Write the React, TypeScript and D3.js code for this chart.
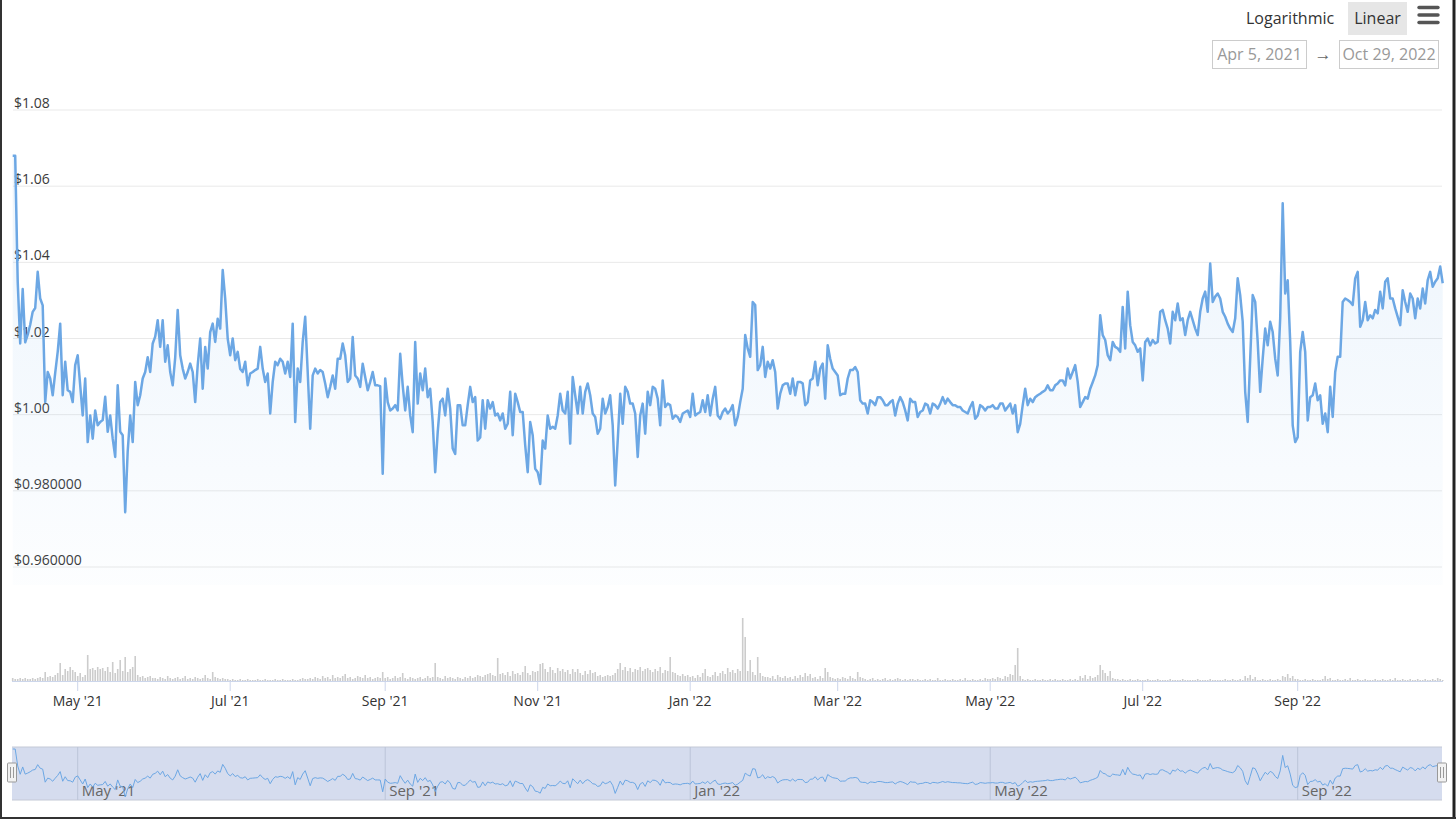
import * as d3 from "d3";

const W = 1456;
const H = 819;

const startDate = new Date(2021, 3, 5);
const endDate = new Date(2022, 9, 29);

// daily price (USD), one array per month
const apr21 = [1.068, 1.068, 1.035, 1.0187, 1.033, 1.019, 1.021, 1.0236, 1.027, 1.028, 1.0375, 1.0305, 1.0287, 1.0033, 1.0112, 1.0095, 1.0051, 1.011, 1.0165, 1.0239, 1.0051, 1.0139, 1.0064, 1.006, 1.0033, 1.013];
const may21 = [1.0156, 1.0077, 0.9998, 1.0095, 0.9928, 0.9998, 0.9937, 1.0011, 0.9972, 0.9981, 0.9986, 1.0047, 0.9955, 0.9998, 0.9937, 0.9889, 1.0077, 0.9955, 0.9946, 0.9744, 0.9904, 0.9998, 0.9928, 1.0086, 1.0025, 1.0051, 1.0095, 1.0112, 1.0151, 1.0112, 1.0187];
const jun21 = [1.0205, 1.0248, 1.0178, 1.0248, 1.0139, 1.0182, 1.0112, 1.0077, 1.015, 1.0275, 1.0156, 1.0121, 1.0095, 1.0112, 1.0134, 1.0112, 1.0033, 1.013, 1.02, 1.0068, 1.0178, 1.0121, 1.0217, 1.0239, 1.0191, 1.0252, 1.0226, 1.038, 1.0305, 1.02];
const jul21 = [1.0156, 1.02, 1.0143, 1.0165, 1.012, 1.0112, 1.0139, 1.0077, 1.0108, 1.0112, 1.0117, 1.0121, 1.0178, 1.0121, 1.0086, 1.0108, 1.0003, 1.0086, 1.0139, 1.013, 1.0147, 1.0139, 1.0108, 1.0139, 1.0099, 1.0239, 0.9981, 1.0121, 1.0086, 1.0191, 1.0257];
const aug21 = [1.0112, 0.9963, 1.0103, 1.0121, 1.0108, 1.0117, 1.0112, 1.0082, 1.0046, 1.0073, 1.0103, 1.0068, 1.0147, 1.0147, 1.0187, 1.0156, 1.0086, 1.0095, 1.0204, 1.0103, 1.0095, 1.0073, 1.0134, 1.0099, 1.0064, 1.0086, 1.0112, 1.0077, 1.0077, 1.0075, 0.9845];
const sep21 = [1.0095, 1.0033, 1.0011, 1.0016, 1.0025, 1.0011, 1.016, 1.0077, 1.0011, 1.0073, 0.9998, 0.9954, 1.0191, 1.0029, 1.0108, 1.0064, 1.0121, 1.0046, 1.0068, 0.9981, 0.9849, 0.9954, 1.0033, 1.0042, 0.9998, 1.0068, 1.0016, 0.9911, 0.9897, 1.0025];
const oct21 = [1.0025, 0.9972, 0.9972, 1.0025, 1.0073, 1.0033, 1.0046, 0.9932, 0.994, 1.0038, 0.9963, 1.0038, 1.0016, 1.0033, 0.9998, 1.0003, 0.9985, 1.0003, 0.9963, 0.9976, 1.006, 0.9946, 1.0055, 1.0033, 1.0007, 1.0007, 0.992, 0.9849, 0.9981, 0.9946, 0.9858];
const nov21 = [0.9849, 0.9818, 0.9932, 0.9911, 0.9998, 0.9963, 0.9968, 0.9963, 0.9998, 1.0055, 1.0011, 1.0003, 1.006, 0.9924, 1.0099, 1.0051, 1.0003, 1.0073, 1.0003, 1.006, 1.0082, 1.0051, 1.0003, 0.9994, 0.995, 0.9963, 1.0042, 1.0003, 1.002, 1.0051];
const dec21 = [0.9972, 0.9814, 0.9932, 1.0055, 0.9976, 1.0073, 1.006, 1.0029, 1.0029, 1.0003, 0.9889, 0.9998, 1.0029, 0.995, 1.006, 1.0025, 1.0073, 1.0068, 1.0042, 0.9972, 1.009, 1.002, 1.0029, 1.0025, 0.9989, 0.9998, 0.9994, 0.9981, 1.0003, 1.0007, 1.0011];
const jan22 = [0.9994, 1.0055, 0.9998, 1.0003, 1.0007, 1.0038, 1.0007, 1.0051, 0.9998, 1.0042, 1.0073, 0.9998, 0.9989, 1.0007, 1.0016, 1.0003, 1.0011, 1.0025, 0.9972, 0.9994, 1.0033, 1.0068, 1.0209, 1.0174, 1.0152, 1.0296, 1.0288, 1.0117, 1.013, 1.0178, 1.0099];
const feb22 = [1.0139, 1.0121, 1.0143, 1.0112, 1.0016, 1.0055, 1.0077, 1.0082, 1.0082, 1.0055, 1.0095, 1.0051, 1.0086, 1.0086, 1.0082, 1.0025, 1.0033, 1.009, 1.0095, 1.0139, 1.0077, 1.0121, 1.0134, 1.0042, 1.0182, 1.0147, 1.0121, 1.0112];
const mar22 = [1.0103, 1.0051, 1.0055, 1.0055, 1.0095, 1.0117, 1.0117, 1.0125, 1.0112, 1.0038, 1.0029, 1.0029, 1.0003, 1.0038, 1.0033, 1.0025, 1.0046, 1.0046, 1.0038, 1.0025, 1.0025, 1.0033, 1.0038, 0.9998, 1.0029, 1.0046, 1.0033, 1.0011, 0.9985, 1.0042, 1.0033];
const apr22 = [1.0033, 0.9994, 1.0007, 1.0011, 1.0029, 1.0025, 1.0003, 1.0029, 1.0025, 1.0016, 1.0029, 1.0046, 1.0029, 1.0042, 1.0033, 1.0025, 1.0025, 1.002, 1.002, 1.0011, 1.0007, 1.0003, 1.002, 1.0033, 0.9989, 0.9998, 1.0025, 1.002, 1.0011, 1.002];
const may22 = [1.002, 1.0025, 1.0016, 1.0016, 1.0029, 1.0029, 1.0011, 1.002, 1.0029, 1.0003, 1.0025, 0.9954, 0.9976, 1.0025, 1.0068, 1.0025, 1.0042, 1.0033, 1.0046, 1.0051, 1.0055, 1.006, 1.0064, 1.0077, 1.0064, 1.0064, 1.0077, 1.0082, 1.009, 1.009, 1.0077];
const jun22 = [1.0121, 1.0095, 1.0112, 1.013, 1.0086, 1.002, 1.0033, 1.0046, 1.0042, 1.0068, 1.0085, 1.0103, 1.013, 1.0261, 1.0209, 1.0196, 1.0156, 1.0143, 1.0191, 1.0178, 1.0174, 1.0165, 1.0283, 1.0174, 1.0323, 1.0235, 1.0191, 1.0182, 1.0165, 1.0174];
const jul22 = [1.009, 1.0191, 1.02, 1.0182, 1.0196, 1.0187, 1.0191, 1.027, 1.0275, 1.0248, 1.0226, 1.0187, 1.027, 1.0248, 1.0292, 1.0248, 1.0253, 1.0209, 1.0248, 1.027, 1.0248, 1.0226, 1.0209, 1.027, 1.0305, 1.0323, 1.027, 1.0397, 1.0296, 1.031, 1.0318];
const aug22 = [1.0305, 1.027, 1.0257, 1.0239, 1.0226, 1.0217, 1.0253, 1.0358, 1.0314, 1.0244, 1.006, 0.9981, 1.0147, 1.0314, 1.0296, 1.0191, 1.006, 1.0147, 1.0226, 1.0182, 1.0244, 1.0217, 1.0147, 1.0103, 1.0253, 1.0555, 1.0318, 1.0353, 1.0191, 0.9972, 0.9928];
const sep22 = [0.9941, 1.0165, 1.0217, 1.0165, 0.9985, 1.0046, 1.0051, 1.0082, 1.0038, 1.0051, 0.9976, 1.0003, 0.9954, 1.0073, 0.9994, 1.0112, 1.0152, 1.0152, 1.0296, 1.0305, 1.0301, 1.0296, 1.0288, 1.0358, 1.0375, 1.0231, 1.0248, 1.0296, 1.0248, 1.0261];
const oct22 = [1.0253, 1.0275, 1.0266, 1.0323, 1.0279, 1.0349, 1.0358, 1.0305, 1.0305, 1.0279, 1.0257, 1.0235, 1.0327, 1.0296, 1.027, 1.0318, 1.0305, 1.0253, 1.0305, 1.0279, 1.0331, 1.0292, 1.0353, 1.0375, 1.0336, 1.0349, 1.0358, 1.0389, 1.0345];

// daily volume (millions USD), one array per month
const volApr21 = [3, 2, 2, 3, 2, 3, 2, 2, 3, 2, 3, 4, 3, 9, 4, 5, 4, 6, 8, 18, 6, 12, 10, 14, 11, 9];
const volMay21 = [5, 8, 4, 6, 26, 12, 13, 11, 14, 12, 13, 10, 14, 9, 19, 8, 12, 21, 10, 24, 9, 12, 14, 25, 6, 4, 5, 3, 4, 5, 3];
const volJun21 = [3, 2, 4, 3, 2, 5, 3, 2, 3, 4, 2, 3, 5, 2, 3, 2, 4, 3, 2, 3, 6, 3, 2, 9, 4, 3, 2, 3, 2, 2];
const volJul21 = [1, 2, 1, 1, 2, 1, 1, 2, 1, 1, 1, 2, 1, 1, 2, 1, 1, 1, 2, 1, 1, 2, 1, 1, 1, 2, 1, 1, 2, 3, 2];
const volAug21 = [2, 3, 2, 4, 3, 2, 5, 3, 4, 2, 6, 3, 4, 3, 5, 7, 3, 4, 2, 3, 5, 4, 3, 6, 3, 4, 2, 3, 4, 3, 9];
const volSep21 = [3, 4, 2, 3, 5, 3, 4, 8, 3, 2, 4, 3, 2, 3, 4, 2, 3, 5, 3, 4, 18, 4, 3, 2, 5, 3, 4, 3, 2, 4];
const volOct21 = [3, 2, 4, 3, 5, 3, 4, 6, 5, 4, 6, 7, 8, 6, 5, 23, 7, 8, 6, 9, 5, 10, 7, 8, 6, 9, 15, 8, 6, 10, 9];
const volNov21 = [10, 17, 18, 12, 9, 14, 11, 8, 13, 10, 12, 9, 11, 7, 12, 9, 12, 8, 6, 10, 7, 11, 8, 9, 5, 6, 4, 5, 6, 5];
const volDec21 = [6, 8, 12, 18, 11, 14, 10, 13, 9, 12, 11, 14, 10, 12, 13, 11, 9, 12, 10, 14, 8, 11, 10, 24, 9, 8, 6, 5, 7, 5, 6];
const volJan22 = [4, 5, 3, 6, 4, 8, 12, 5, 4, 6, 9, 5, 8, 10, 7, 13, 9, 11, 8, 12, 10, 63, 44, 10, 21, 9, 6, 24, 8, 5, 4];
const volFeb22 = [4, 3, 5, 2, 6, 4, 3, 5, 3, 4, 2, 5, 3, 6, 4, 8, 5, 7, 3, 4, 2, 5, 3, 13, 9, 4, 3, 2];
const volMar22 = [3, 2, 4, 3, 2, 5, 3, 2, 9, 4, 3, 2, 1, 2, 3, 1, 2, 1, 2, 3, 1, 2, 1, 2, 3, 2, 1, 2, 1, 2, 2];
const volApr22 = [1, 2, 1, 1, 2, 1, 2, 1, 1, 3, 1, 1, 2, 1, 1, 2, 1, 1, 2, 1, 3, 1, 1, 2, 1, 1, 2, 1, 3, 2];
const volMay22 = [2, 3, 2, 4, 3, 2, 5, 4, 7, 6, 16, 33, 5, 2, 1, 2, 1, 1, 2, 1, 1, 2, 1, 1, 2, 1, 2, 1, 1, 2, 1];
const volJun22 = [1, 2, 1, 2, 1, 5, 3, 6, 2, 5, 3, 4, 6, 16, 11, 8, 5, 10, 3, 2, 2, 1, 2, 1, 1, 2, 1, 1, 2, 1];
const volJul22 = [1, 1, 2, 1, 1, 1, 2, 1, 1, 1, 1, 2, 1, 1, 1, 1, 2, 1, 1, 1, 1, 1, 2, 1, 1, 1, 1, 2, 1, 1, 1];
const volAug22 = [1, 1, 2, 1, 1, 2, 1, 1, 2, 1, 5, 3, 6, 2, 4, 1, 1, 2, 1, 1, 2, 1, 1, 2, 1, 5, 4, 7, 3, 5, 2];
const volSep22 = [2, 1, 1, 2, 1, 1, 2, 1, 1, 1, 2, 5, 2, 3, 1, 1, 2, 1, 1, 2, 1, 3, 1, 1, 2, 1, 1, 2, 1, 1];
const volOct22 = [1, 2, 1, 1, 2, 1, 1, 2, 1, 3, 1, 1, 2, 1, 1, 2, 1, 1, 2, 1, 1, 2, 1, 1, 2, 1, 3, 2, 1];

const priceMonths = [apr21, may21, jun21, jul21, aug21, sep21, oct21, nov21, dec21, jan22, feb22, mar22, apr22, may22, jun22, jul22, aug22, sep22, oct22];
const volumeMonths = [volApr21, volMay21, volJun21, volJul21, volAug21, volSep21, volOct21, volNov21, volDec21, volJan22, volFeb22, volMar22, volApr22, volMay22, volJun22, volJul22, volAug22, volSep22, volOct22];

const yTicks = [0.96, 0.98, 1.0, 1.02, 1.04, 1.06, 1.08];
const yTickLabels = ["$0.960000", "$0.980000", "$1.00", "$1.02", "$1.04", "$1.06", "$1.08"];

const FONT = "'Open Sans', 'Noto Sans', sans-serif";
const LINE_COLOR = "#6ca7e4";

export default function App() {
  const prices = priceMonths.flat();
  const volumes = volumeMonths.flat();
  const dates = prices.map((_, i) => d3.timeDay.offset(startDate, i));

  const x = d3.scaleTime().domain([startDate, endDate]).range([12.7, 1442.7]);
  const y = d3.scaleLinear().domain([0.96, 1.08]).range([567, 110]);
  const vy = d3.scaleLinear().domain([0, d3.max(volumes)!]).range([681, 618]);
  const ny = d3
    .scaleLinear()
    .domain(d3.extent(prices) as [number, number])
    .range([797, 749]);

  const linePath = d3
    .line<number>()
    .x((_, i) => x(dates[i]))
    .y((d) => y(d))(prices);
  const areaPath = d3
    .area<number>()
    .x((_, i) => x(dates[i]))
    .y0(585)
    .y1((d) => y(d))(prices);
  const navPath = d3
    .line<number>()
    .x((_, i) => x(dates[i]))
    .y((d) => ny(d))(prices);

  const monthTicks = x.ticks(d3.timeMonth.every(2)!);
  const navTicks = x.ticks(d3.timeMonth.every(4)!);
  const fmt = d3.timeFormat("%b '%y");

  return (
    <div style={{ position: "absolute", left: 0, top: 0 }}>
      <svg width={W} height={H} style={{ display: "block", fontFamily: FONT }}>
        <rect width={W} height={H} fill="#fff" />
        <defs>
          <linearGradient id="areaFill" gradientUnits="userSpaceOnUse" x1="0" y1="110" x2="0" y2="585">
            <stop offset="0" stopColor="#7cb5ec" stopOpacity={0.16} />
            <stop offset="1" stopColor="#7cb5ec" stopOpacity={0.02} />
          </linearGradient>
        </defs>

        {/* grid + y labels */}
        {yTicks.map((t, i) => (
          <g key={t}>
            <line x1={13} x2={1442} y1={y(t)} y2={y(t)} stroke="#e9e9e9" />
            <text x={14} y={y(t) - 2} fontSize={14} fill="#3a3a3a">
              {yTickLabels[i]}
            </text>
          </g>
        ))}

        <path d={areaPath!} fill="url(#areaFill)" />
        <path d={linePath!} fill="none" stroke={LINE_COLOR} strokeWidth={2.5} strokeLinejoin="round" />

        {/* volume */}
        {volumes.map((v, i) => (
          <rect
            key={i}
            x={x(dates[i]) - 0.8}
            y={vy(v)}
            width={1.6}
            height={681 - vy(v)}
            fill="#cccccc"
          />
        ))}
        <line x1={12} x2={1443} y1={681.5} y2={681.5} stroke="#ccd6eb" />
        {monthTicks.map((t) => (
          <g key={t.getTime()}>
            <line x1={x(t)} x2={x(t)} y1={681} y2={691} stroke="#ccd6eb" />
            <text x={x(t)} y={706} fontSize={14} fill="#333" textAnchor="middle">
              {fmt(t)}
            </text>
          </g>
        ))}

        {/* navigator */}
        <rect x={12} y={747} width={1430} height={53} fill="#d5dcee" />
        <line x1={12} x2={1442} y1={747} y2={747} stroke="#c4c9d6" />
        <line x1={12} x2={1442} y1={800} y2={800} stroke="#c4c9d6" />
        {navTicks.map((t) => (
          <g key={t.getTime()}>
            <line x1={x(t)} x2={x(t)} y1={747} y2={800} stroke="#bcc4d8" />
            <text x={x(t) + 4} y={796} fontSize={15} fill="#666">
              {fmt(t)}
            </text>
          </g>
        ))}
        <path d={navPath!} fill="none" stroke={LINE_COLOR} strokeWidth={1} />
        {[12, 1442].map((hx) => (
          <g key={hx}>
            <rect x={hx - 4.5} y={763} width={9} height={19} rx={1} fill="#f2f2f2" stroke="#999" />
            <line x1={hx - 1.5} x2={hx - 1.5} y1={767} y2={778} stroke="#999" />
            <line x1={hx + 1.5} x2={hx + 1.5} y1={767} y2={778} stroke="#999" />
          </g>
        ))}

        {/* top-right controls */}
        <text x={1246} y={24} fontSize={16} fill="#333">
          Logarithmic
        </text>
        <rect x={1348} y={2} width={59} height={33} fill="#e6e6e6" />
        <text x={1377.5} y={24} fontSize={16} fill="#333" textAnchor="middle">
          Linear
        </text>
        {[7.5, 15, 22.5].map((hy) => (
          <line key={hy} x1={1419} x2={1438} y1={hy} y2={hy} stroke="#555" strokeWidth={3.4} strokeLinecap="round" />
        ))}
        <rect x={1212.5} y={40.5} width={94} height={28} fill="#fff" stroke="#ccc" />
        <text x={1259.5} y={60} fontSize={16} fill="#999" textAnchor="middle">
          Apr 5, 2021
        </text>
        <text x={1323} y={60} fontSize={17} fill="#666" textAnchor="middle">
          →
        </text>
        <rect x={1339.5} y={40.5} width={99} height={28} fill="#fff" stroke="#ccc" />
        <text x={1389} y={60} fontSize={16} fill="#999" textAnchor="middle">
          Oct 29, 2022
        </text>

        {/* frame */}
        <line x1={1} x2={1} y1={0} y2={H} stroke="#333" strokeWidth={2} />
        <line x1={1454} x2={1454} y1={0} y2={H} stroke="#222" strokeWidth={3} />
        <line x1={0} x2={W} y1={818} y2={818} stroke="#333" strokeWidth={2} />
      </svg>
    </div>
  );
}
